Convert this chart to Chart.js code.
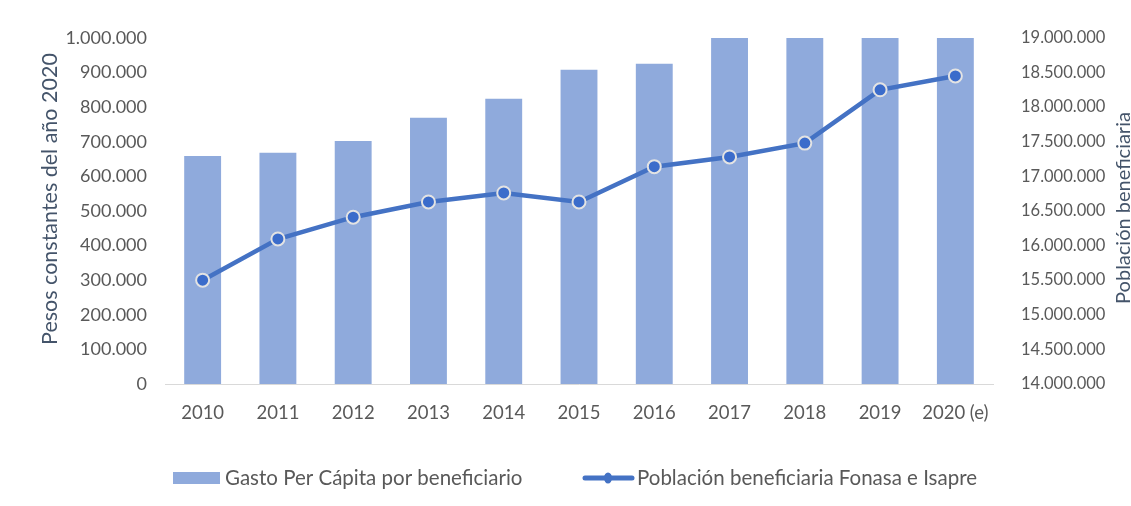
<!DOCTYPE html>
<html>
<head>
<meta charset="utf-8">
<script src="https://cdn.jsdelivr.net/npm/chart.js@4.4.1/dist/chart.umd.min.js"></script>
<style>
  html, body { margin: 0; padding: 0; background: #fff; }
  #wrap { width: 1131px; height: 506px; }
</style>
</head>
<body>
<div id="wrap"><canvas id="chart"></canvas></div>
<script>
const years = ['2010', '2011', '2012', '2013', '2014', '2015', '2016', '2017', '2018', '2019', '2020 (e)'];
// gasto per capita (pesos constantes 2020); 2017-2020 reach the top of the axis
const gasto = [659000, 668000, 702000, 769000, 824000, 908000, 925000, 1000000, 1000000, 1000000, 1000000];
// poblacion beneficiaria Fonasa + Isapre
const poblacion = [15500000, 16095000, 16410000, 16630000, 16760000, 16630000, 17140000, 17280000, 17480000, 18250000, 18450000];

const seriesNames = ['Gasto Per Cápita por beneficiario', 'Población beneficiaria Fonasa e Isapre'];
const leftTitle = 'Pesos constantes del año 2020';
const rightTitle = 'Población beneficiaria';

const barColor = '#8FAADC';
const lineColor = '#4472C4';
const tickColor = '#595959';
const titleColor = '#44546A';
const fontFamily = 'Lato, "Open Sans", sans-serif';

// thousands with dots, e.g. 1.000.000
const fmt = v => String(Math.round(v)).replace(/\B(?=(\d{3})+(?!\d))/g, '.');

// axis titles + legend drawn by hand so they sit where the original has them
const extras = {
  id: 'extras',
  afterDraw(chart) {
    const c = chart.ctx;
    c.save();
    c.fillStyle = titleColor;
    c.textAlign = 'center';
    c.textBaseline = 'middle';

    c.font = '21.5px ' + fontFamily;
    c.save();
    c.translate(50, 199);
    c.rotate(-Math.PI / 2);
    c.fillText(leftTitle, 0, 0);
    c.restore();

    c.font = '20px ' + fontFamily;
    c.save();
    c.translate(1124, 208);
    c.rotate(-Math.PI / 2);
    c.fillText(rightTitle, 0, 0);
    c.restore();

    // legend
    const ly = 478;
    c.font = '20.5px ' + fontFamily;
    c.textAlign = 'left';

    c.fillStyle = barColor;
    c.fillRect(173, ly - 6, 47, 12);
    c.fillStyle = tickColor;
    c.fillText(seriesNames[0], 225, ly);

    c.strokeStyle = lineColor;
    c.lineWidth = 5;
    c.lineCap = 'round';
    c.beginPath(); c.moveTo(585, ly); c.lineTo(632, ly); c.stroke();
    c.fillStyle = lineColor;
    c.beginPath(); c.ellipse(608, ly, 4, 5.5, 0, 0, Math.PI * 2); c.fill();
    c.fillStyle = tickColor;
    c.fillText(seriesNames[1], 637, ly);
    c.restore();
  }
};

const ctx = document.getElementById('chart').getContext('2d');
new Chart(ctx, {
  data: {
    labels: years,
    datasets: [
      {
        type: 'line',
        label: seriesNames[1],
        data: poblacion,
        yAxisID: 'y2',
        order: 0,
        borderColor: lineColor,
        borderWidth: 4.5,
        tension: 0,
        pointRadius: 6.5,
        pointHoverRadius: 6.5,
        pointBackgroundColor: '#3B6CCB',
        pointBorderColor: '#E3E3E3',
        pointBorderWidth: 2
      },
      {
        type: 'bar',
        label: seriesNames[0],
        data: gasto,
        yAxisID: 'y',
        order: 1,
        backgroundColor: barColor,
        categoryPercentage: 1,
        barPercentage: 0.49
      }
    ]
  },
  options: {
    responsive: true,
    maintainAspectRatio: false,
    animation: false,
    layout: { padding: { top: 35, bottom: 62, left: 0, right: 0 } },
    plugins: {
      tooltip: { enabled: false },
      legend: { display: false }
    },
    scales: {
      x: {
        grid: { display: false, drawTicks: false },
        border: { color: '#D9D9D9', width: 1 },
        ticks: { color: tickColor, font: { family: fontFamily, size: 18.5 }, padding: 18, maxRotation: 0 },
        afterFit: s => { s.height = 60; }
      },
      y: {
        position: 'left',
        min: 0,
        max: 1000000,
        grid: { display: false, drawTicks: false },
        border: { display: false },
        ticks: { stepSize: 100000, color: tickColor, font: { family: fontFamily, size: 18 }, padding: 18, callback: v => fmt(v) },
        afterFit: s => { s.width = 165; }
      },
      y2: {
        position: 'right',
        min: 14000000,
        max: 19000000,
        grid: { display: false, drawTicks: false },
        border: { display: false },
        ticks: { stepSize: 500000, color: tickColor, font: { family: fontFamily, size: 16.5 }, padding: 28, callback: v => fmt(v) },
        afterFit: s => { s.width = 138; }
      }
    }
  },
  plugins: [extras]
});
</script>
</body>
</html>
